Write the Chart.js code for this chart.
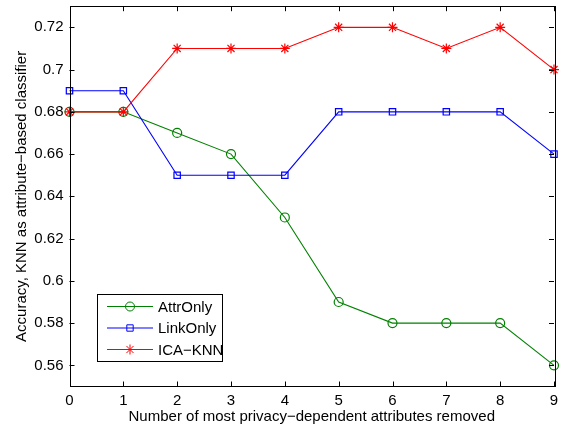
<!DOCTYPE html>
<html lang="en">
<head>
  <meta charset="UTF-8" />
  <title>Accuracy vs attributes removed</title>
  <script src="https://cdn.jsdelivr.net/npm/chart.js"></script>
  <style>
    html, body { margin: 0; padding: 0; background: #fff; }
    #wrap { width: 561px; height: 429px; }
  </style>
</head>
<body>
  <div id="wrap"><canvas id="chart" width="561" height="429"></canvas></div>

  <script>
    // data
    const removed  = [0, 1, 2, 3, 4, 5, 6, 7, 8, 9];
    const attrOnly = [0.68, 0.68, 0.67, 0.66, 0.63, 0.59, 0.58, 0.58, 0.58, 0.56];
    const linkOnly = [0.69, 0.69, 0.65, 0.65, 0.65, 0.68, 0.68, 0.68, 0.68, 0.66];
    const icaKnn   = [0.68, 0.68, 0.71, 0.71, 0.71, 0.72, 0.72, 0.71, 0.72, 0.70];
    const yTicks   = [0.56, 0.58, 0.60, 0.62, 0.64, 0.66, 0.68, 0.70, 0.72];

    const FONT = "'Liberation Sans', Arial, Helvetica, sans-serif";

    function pts(ys) {
      return ys.map((y, i) => ({ x: removed[i], y: y }));
    }

    // MATLAB style box, inward ticks and the legend inside the axes
    const matlabBox = {
      id: "matlabBox",
      afterDatasetsDraw(chart) {
        const ctx = chart.ctx;
        const a = chart.chartArea;
        const xs = chart.scales.x, ys = chart.scales.y;
        ctx.save();
        ctx.strokeStyle = "#000";
        ctx.lineWidth = 1;
        ctx.beginPath();
        removed.forEach(v => {
          const px = Math.round(xs.getPixelForValue(v)) + 0.5;
          ctx.moveTo(px, a.bottom); ctx.lineTo(px, a.bottom - 5);
          ctx.moveTo(px, a.top); ctx.lineTo(px, a.top + 5);
        });
        yTicks.forEach(v => {
          const py = Math.round(ys.getPixelForValue(v)) + 0.5;
          ctx.moveTo(a.left, py); ctx.lineTo(a.left + 5, py);
          ctx.moveTo(a.right, py); ctx.lineTo(a.right - 5, py);
        });
        ctx.stroke();
        ctx.strokeRect(Math.round(a.left) + 0.5, Math.round(a.top) + 0.5,
                       Math.round(a.right - a.left), Math.round(a.bottom - a.top));

        // legend
        const lx = 97.5, ly = 294.5, lw = 125, lh = 67;
        ctx.fillStyle = "#fff";
        ctx.fillRect(lx, ly, lw, lh);
        ctx.strokeRect(lx, ly, lw, lh);
        ctx.font = "15px " + FONT;
        ctx.textBaseline = "middle";
        chart.data.datasets.forEach((ds, i) => {
          const cy = 306.5 + i * 21.5;
          ctx.strokeStyle = ds.borderColor;
          ctx.fillStyle = "rgba(0,0,0,0)";
          ctx.lineWidth = 1;
          ctx.beginPath();
          ctx.moveTo(107, cy); ctx.lineTo(153, cy);
          ctx.stroke();
          Chart.helpers.drawPoint(ctx, {
            pointStyle: ds.pointStyle,
            radius: ds.pointRadius,
            borderWidth: 1.2
          }, 130, cy);
          ctx.fillStyle = "#000";
          ctx.fillText(ds.label, 158, cy + 1);
        });
        ctx.restore();
      }
    };

    new Chart(document.getElementById("chart"), {
      type: "line",
      data: {
        datasets: [
          {
            label: "AttrOnly",
            data: pts(attrOnly),
            borderColor: "#008000",
            backgroundColor: "transparent",
            pointStyle: "circle",
            pointRadius: 4.5,
            order: 3
          },
          {
            label: "LinkOnly",
            data: pts(linkOnly),
            borderColor: "#0000ff",
            backgroundColor: "transparent",
            pointStyle: "rect",
            pointRadius: 4.5,
            order: 2
          },
          {
            label: "ICA\u2212KNN",
            data: pts(icaKnn),
            borderColor: "#ff0000",
            backgroundColor: "transparent",
            pointStyle: "star",
            pointRadius: 5,
            order: 1
          }
        ]
      },
      options: {
        responsive: false,
        animation: false,
        clip: false,
        datasets: {
          line: { borderWidth: 1.1, pointBorderWidth: 1.2, tension: 0, clip: false }
        },
        layout: { padding: { top: 2, right: 7, left: 0, bottom: 0 } },
        plugins: { legend: { display: false }, tooltip: { enabled: false } },
        scales: {
          x: {
            type: "linear",
            min: 0,
            max: 9,
            grid: { display: false, drawTicks: false },
            border: { display: false },
            afterBuildTicks: s => { s.ticks = removed.map(v => ({ value: v })); },
            afterFit: s => { s.height = 42.5; s.paddingLeft = 0; s.paddingRight = 0; },
            ticks: {
              color: "#000",
              padding: 5,
              maxRotation: 0,
              font: { family: FONT, size: 15 },
              callback: v => String(v)
            },
            title: {
              display: true,
              text: "Number of most privacy\u2212dependent attributes removed",
              color: "#000",
              font: { family: FONT, size: 15 },
              padding: { top: 0, bottom: 3 }
            }
          },
          y: {
            min: 0.55,
            max: 0.73,
            grid: { display: false, drawTicks: false },
            border: { display: false },
            afterBuildTicks: s => { s.ticks = yTicks.map(v => ({ value: v })); },
            afterFit: s => { s.width = 69.5; s.paddingTop = 0; s.paddingBottom = 0; },
            ticks: {
              color: "#000",
              padding: 6,
              font: { family: FONT, size: 15 },
              callback: v => String(+v.toFixed(2))
            },
            title: {
              display: true,
              text: "Accuracy, KNN as attribute\u2212based classifier",
              color: "#000",
              font: { family: FONT, size: 15 },
              padding: { top: 13, bottom: 0 }
            }
          }
        }
      },
      plugins: [matlabBox]
    });
  </script>
</body>
</html>
